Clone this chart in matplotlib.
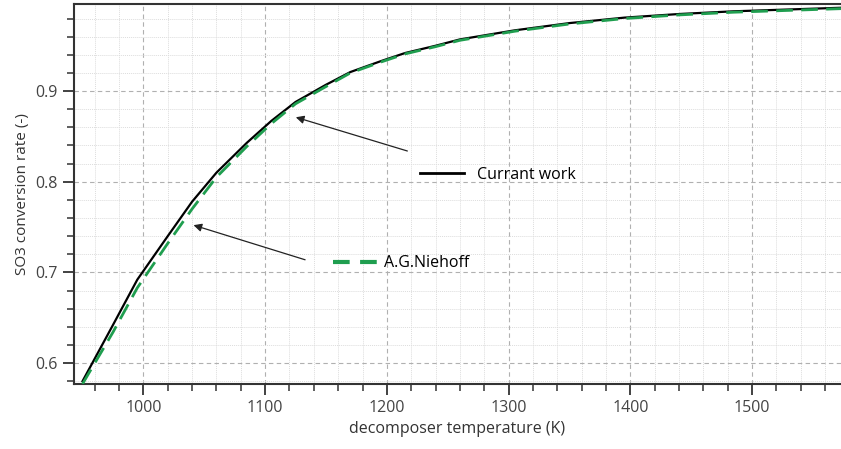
import numpy as np
import matplotlib
matplotlib.use('Agg')
import matplotlib.pyplot as plt
from matplotlib.lines import Line2D
from matplotlib.ticker import MultipleLocator

plt.rcParams['font.family'] = ['Open Sans', 'DejaVu Sans']

# data
temp = [950, 975, 995, 1020, 1040, 1060, 1085, 1105, 1125, 1150, 1170, 1195, 1215, 1240,
        1260, 1305, 1350, 1395, 1440, 1485, 1530, 1575]
conv_current = [0.580, 0.642, 0.692, 0.740, 0.778, 0.810, 0.843, 0.867, 0.888, 0.907, 0.921, 0.933,
                0.942, 0.950, 0.957, 0.967, 0.975, 0.981, 0.985, 0.988, 0.990, 0.992]
conv_niehoff = [0.577, 0.634, 0.683, 0.732, 0.770, 0.805, 0.839, 0.864, 0.886, 0.905, 0.920, 0.932,
                0.941, 0.949, 0.956, 0.966, 0.974, 0.980, 0.984, 0.987, 0.989, 0.991]

fig = plt.figure(figsize=(8.41, 4.49), dpi=100)
ax = fig.add_axes([0.088, 0.145, 0.912, 0.846])

ax.plot(temp, conv_current, color='black', lw=1.6, zorder=3)
ax.plot(temp, conv_niehoff, color='#1f9e4f', lw=2.0, dashes=(6, 3), zorder=4)

ax.set_xlim(943, 1573)
ax.set_ylim(0.577, 0.996)
ax.xaxis.set_major_locator(MultipleLocator(100))
ax.xaxis.set_minor_locator(MultipleLocator(20))
ax.yaxis.set_major_locator(MultipleLocator(0.1))
ax.yaxis.set_minor_locator(MultipleLocator(0.02))

ax.grid(which='major', color='#b0b0b0', ls=(0, (4, 3)), lw=0.8)
ax.grid(which='minor', color='#dddddd', ls=(0, (1, 1)), lw=0.7)
ax.set_axisbelow(True)

for s in ['left', 'bottom', 'top']:
    ax.spines[s].set_color('#333333')
    ax.spines[s].set_linewidth(1.5)
ax.spines['right'].set_visible(False)

ax.tick_params(which='major', direction='out', length=8, width=1.3, color='#333333',
               labelsize=11.5, labelcolor='#444444')
ax.tick_params(which='minor', direction='out', length=5, width=1.1, color='#333333')
ax.tick_params(axis='x', which='both', top=False)

ax.set_xlabel('decomposer temperature (K)', fontsize=11.5, color='#333333', labelpad=4)
ax.set_ylabel('SO3 conversion rate (-)', fontsize=11, color='#333333', labelpad=4)

# arrows pointing to the curves
ax.annotate('', xy=(1123, 0.872), xytext=(1219, 0.833),
            arrowprops=dict(arrowstyle='-|>', color='#222222', lw=0.9, mutation_scale=12))
ax.annotate('', xy=(1039, 0.753), xytext=(1135, 0.713),
            arrowprops=dict(arrowstyle='-|>', color='#222222', lw=0.9, mutation_scale=12))

# two separate legend entries
h1 = Line2D([], [], color='black', lw=2)
h2 = Line2D([], [], color='#1f9e4f', lw=3, dashes=(4, 2.5))
leg1 = ax.legend([h1], ['Currant work'], loc='center left', bbox_to_anchor=(0.432, 0.551),
                 frameon=False, fontsize=11.5, handlelength=2.8, handletextpad=0.8)
ax.add_artist(leg1)
ax.legend([h2], ['A.G.Niehoff'], loc='center left', bbox_to_anchor=(0.319, 0.318),
          frameon=False, fontsize=11.5, handlelength=2.8, handletextpad=0.4)

fig.savefig('out.png', dpi=100)
